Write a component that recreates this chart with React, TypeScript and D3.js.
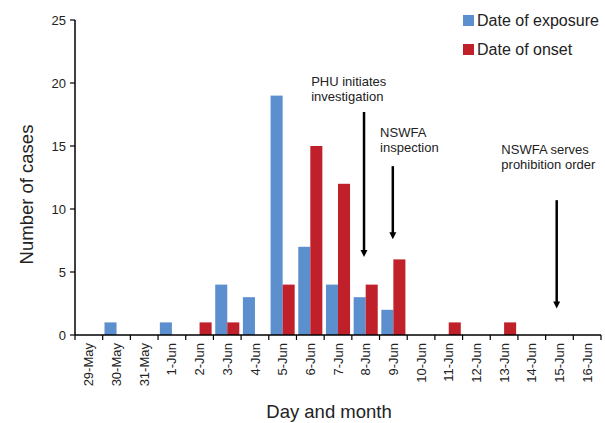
import React from "react";
import * as d3 from "d3";

const categories = ["29-May","30-May","31-May","1-Jun","2-Jun","3-Jun","4-Jun","5-Jun","6-Jun","7-Jun","8-Jun","9-Jun","10-Jun","11-Jun","12-Jun","13-Jun","14-Jun","15-Jun","16-Jun"];
const exposure = [0,1,0,1,0,4,3,19,7,4,3,2,0,0,0,0,0,0,0];
const onset = [0,0,0,0,1,1,0,4,15,12,4,6,0,1,0,1,0,0,0];
const seriesNames = ["Date of exposure", "Date of onset"];
const seriesColors = ["#5b8fcd", "#c0202a"];
const yTicks = [0,5,10,15,20,25];

// annotations: x in category-index units, y in data units
const annotations = [
  { lines: ["PHU initiates", "investigation"], tx: 8.53, ty: 19.75, ax: 10.44, y0: 17.7, y1: 6.2 },
  { lines: ["NSWFA", "inspection"], tx: 11.02, ty: 15.7, ax: 11.48, y0: 13.4, y1: 7.6 },
  { lines: ["NSWFA serves", "prohibition order"], tx: 15.4, ty: 14.35, ax: 17.4, y0: 10.7, y1: 2.1 },
];

const W = 605, H = 423;
const left = 75, right = 601, top = 20, bottom = 335;
const font = "Arial, 'Liberation Sans', sans-serif";

export default function App() {
  const x = d3.scaleBand<string>().domain(categories).range([left, right]).padding(0);
  const xs = d3.scaleBand<string>().domain(["exp", "ons"]).range([0, x.bandwidth()]).paddingInner(0).paddingOuter(0.15);
  const xLin = d3.scaleLinear().domain([0, categories.length]).range([left, right]);
  const y = d3.scaleLinear().domain([0, 25]).range([bottom, top]);

  const boundaries = d3.range(categories.length + 1).map((i) => xLin(i));

  return (
    <svg width={W} height={H} style={{ position: "absolute", left: 0, top: 0, background: "#fff" }} fontFamily={font}>
      <defs>
        <marker id="ah" viewBox="0 0 10 10" refX="5" refY="10" markerWidth="3" markerHeight="3.2" orient="auto" markerUnits="strokeWidth">
          <path d="M0,0 L10,0 L5,10 Z" fill="#000" transform="rotate(-90 5 5)" />
        </marker>
      </defs>
      <rect width={W} height={H} fill="#fff" />
      {/* bars */}
      {categories.map((c, i) => (
        <g key={c}>
          {exposure[i] > 0 && (
            <rect x={x(c)! + xs("exp")!} y={y(exposure[i])} width={xs.bandwidth()} height={y(0) - y(exposure[i])} fill={seriesColors[0]} />
          )}
          {onset[i] > 0 && (
            <rect x={x(c)! + xs("ons")!} y={y(onset[i])} width={xs.bandwidth()} height={y(0) - y(onset[i])} fill={seriesColors[1]} />
          )}
        </g>
      ))}
      {/* y axis */}
      <line x1={left} x2={left} y1={y(25)} y2={y(0)} stroke="#000" strokeWidth={1.5} />
      {yTicks.map((t) => (
        <g key={t}>
          <line x1={left - 5} x2={left} y1={y(t)} y2={y(t)} stroke="#000" strokeWidth={1.2} />
          <text x={left - 9} y={y(t)} dy="0.35em" textAnchor="end" fontSize={13} fill="#222">{t}</text>
        </g>
      ))}
      {/* x axis */}
      <line x1={left} x2={right} y1={y(0)} y2={y(0)} stroke="#000" strokeWidth={1.5} />
      {boundaries.map((b, i) => (
        <line key={i} x1={b} x2={b} y1={y(0)} y2={y(0) + 5} stroke="#000" strokeWidth={1.2} />
      ))}
      {categories.map((c) => {
        const cx = x(c)! + x.bandwidth() / 2;
        return (
          <text key={c} transform={`translate(${cx},${y(0) + 8}) rotate(-90)`} textAnchor="end" dy="0.35em" fontSize={13} fill="#222">{c}</text>
        );
      })}
      {/* axis titles */}
      <text transform={`translate(33,${(top + bottom) / 2 + 17}) rotate(-90)`} textAnchor="middle" fontSize={18.5} fill="#222">Number of cases</text>
      <text x={329} y={418} textAnchor="middle" fontSize={18.5} fill="#222">Day and month</text>
      {/* legend */}
      {seriesNames.map((n, i) => (
        <g key={n} transform={`translate(463,${15 + i * 29})`}>
          <rect width={11} height={11} fill={seriesColors[i]} />
          <text x={14} y={11} fontSize={16} fill="#222">{n}</text>
        </g>
      ))}
      {/* annotations */}
      {annotations.map((a, i) => (
        <g key={i}>
          <text x={xLin(a.tx)} y={y(a.ty)} fontSize={13} fill="#222">
            {a.lines.map((l, j) => (
              <tspan key={j} x={xLin(a.tx)} dy={j === 0 ? 0 : 15}>{l}</tspan>
            ))}
          </text>
          <line x1={xLin(a.ax)} x2={xLin(a.ax)} y1={y(a.y0)} y2={y(a.y1) - 6} stroke="#000" strokeWidth={2.5} />
          <path d={`M${xLin(a.ax) - 3.5},${y(a.y1) - 7} L${xLin(a.ax) + 3.5},${y(a.y1) - 7} L${xLin(a.ax)},${y(a.y1)} Z`} fill="#000" />
        </g>
      ))}
    </svg>
  );
}
